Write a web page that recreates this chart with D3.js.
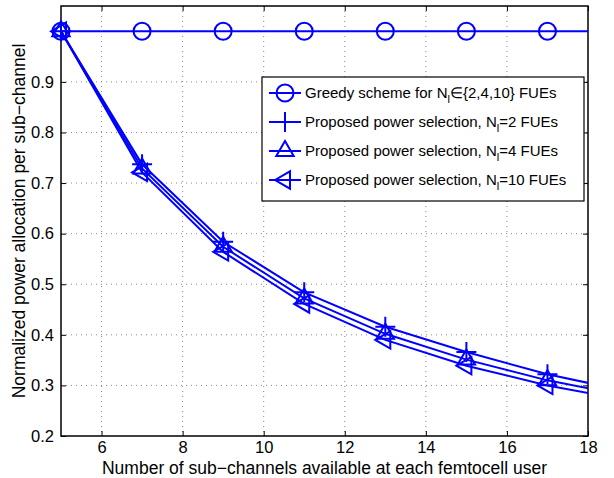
<!DOCTYPE html>
<html>
<head>
<meta charset="utf-8">
<script src="https://cdn.jsdelivr.net/npm/d3@7"></script>
<style>
body { margin: 0; background: #fff; }
text { font-family: "Liberation Sans", Arial, sans-serif; }
</style>
</head>
<body>
<div id="chart"></div>
<script>
// data
var xVals = [5, 7, 9, 11, 13, 15, 17, 19];
var greedy = [1, 1, 1, 1, 1, 1, 1, 1];
var prop2 = [1, 0.737, 0.584, 0.484, 0.416, 0.366, 0.322, 0.288];
var prop4 = [1, 0.729, 0.574, 0.472, 0.402, 0.351, 0.31, 0.279];
var prop10 = [1, 0.721, 0.564, 0.461, 0.39, 0.339, 0.30, 0.27];
var xTicks = [6, 8, 10, 12, 14, 16, 18];
var yTicks = [0.2, 0.3, 0.4, 0.5, 0.6, 0.7, 0.8, 0.9];

var W = 614, H = 478;
var margin = { top: 6, right: 26, bottom: 42, left: 61 };
var width = W - margin.left - margin.right,
	height = H - margin.top - margin.bottom;
var blue = "#0000ff";

var svg = d3.select("#chart").append("svg")
	.attr("width", W)
	.attr("height", H);

var g = svg.append("g")
	.attr("transform", "translate(" + margin.left + "," + margin.top + ")");

var x = d3.scaleLinear().domain([5, 18]).range([0, width]);
var y = d3.scaleLinear().domain([0.2, 1.05]).range([height, 0]);

// dotted grid
g.selectAll(".vgrid").data(xTicks.filter(function (d) { return d < 18; }))
	.enter().append("line")
	.attr("x1", function (d) { return x(d); })
	.attr("x2", function (d) { return x(d); })
	.attr("y1", 0).attr("y2", height)
	.attr("stroke", "#888").attr("stroke-width", 1)
	.attr("stroke-dasharray", "1,4");
g.selectAll(".hgrid").data(yTicks.filter(function (d) { return d > 0.2; }))
	.enter().append("line")
	.attr("y1", function (d) { return y(d); })
	.attr("y2", function (d) { return y(d); })
	.attr("x1", 0).attr("x2", width)
	.attr("stroke", "#888").attr("stroke-width", 1)
	.attr("stroke-dasharray", "1,4");

// axes (ticks inward, mirrored)
var xAxis = d3.axisBottom(x).tickValues(xTicks).tickSize(-5).tickPadding(5).tickFormat(d3.format("d"));
var yAxis = d3.axisLeft(y).tickValues(yTicks).tickSize(-5).tickPadding(7).tickFormat(d3.format(".1f"));

var gx = g.append("g").attr("transform", "translate(0," + height + ")").call(xAxis);
var gy = g.append("g").call(yAxis);
g.append("g").call(d3.axisTop(x).tickValues(xTicks).tickSize(-5).tickFormat(""));
g.append("g").attr("transform", "translate(" + width + ",0)")
	.call(d3.axisRight(y).tickValues(yTicks).tickSize(-5).tickFormat(""));

g.selectAll(".domain").remove();
g.selectAll(".tick line").attr("stroke", "#000");
g.selectAll(".tick text").attr("font-size", 16.5).attr("fill", "#000")
	.style("font-family", "'Liberation Sans', Arial, sans-serif");

g.append("rect")
	.attr("width", width).attr("height", height)
	.attr("fill", "none").attr("stroke", "#000").attr("stroke-width", 1.5);

// series
var series = [
	{ name: "greedy", vals: greedy, marker: "circle" },
	{ name: "p2", vals: prop2, marker: "plus" },
	{ name: "p4", vals: prop4, marker: "tri" },
	{ name: "p10", vals: prop10, marker: "ltri" }
];

function markerPath(type, s) {
	if (type == "circle") return null;
	if (type == "plus") return "M" + (-s) + ",0H" + s + "M0," + (-s) + "V" + s;
	if (type == "tri") return "M0," + (-s) + "L" + (s * 0.87) + "," + (s * 0.5) + "L" + (-s * 0.87) + "," + (s * 0.5) + "Z";
	if (type == "ltri") return "M" + (-s) + ",0L" + (s * 0.5) + "," + (-s * 0.87) + "L" + (s * 0.5) + "," + (s * 0.87) + "Z";
}

function drawMarker(sel, type) {
	if (type == "circle") {
		sel.append("circle").attr("r", 8.5)
			.attr("fill", "none").attr("stroke", blue).attr("stroke-width", 2);
	} else {
		sel.append("path").attr("d", markerPath(type, 10))
			.attr("fill", "none").attr("stroke", blue).attr("stroke-width", 2);
	}
}

var clip = g.append("clipPath").attr("id", "clip")
	.append("rect").attr("width", width).attr("height", height);

var line = d3.line()
	.x(function (d, i) { return x(xVals[i]); })
	.y(function (d) { return y(d); });

var plot = g.append("g").attr("clip-path", "url(#clip)");

series.forEach(function (s) {
	plot.append("path")
		.datum(s.vals)
		.attr("d", line)
		.attr("fill", "none")
		.attr("stroke", blue)
		.attr("stroke-width", 2);
	s.vals.forEach(function (v, i) {
		if (xVals[i] > 18) return;
		var m = g.append("g").attr("transform", "translate(" + x(xVals[i]) + "," + y(v) + ")");
		drawMarker(m, s.marker);
	});
});

// legend
var lg = svg.append("g").attr("transform", "translate(262,77)");
lg.append("rect").attr("width", 322).attr("height", 124)
	.attr("fill", "#fff").attr("stroke", "#000").attr("stroke-width", 1.2);

var legendItems = [
	{ marker: "circle", pre: "Greedy scheme for N", post: "\u2208{2,4,10} FUEs" },
	{ marker: "plus", pre: "Proposed power selection, N", post: "=2 FUEs" },
	{ marker: "tri", pre: "Proposed power selection, N", post: "=4 FUEs" },
	{ marker: "ltri", pre: "Proposed power selection, N", post: "=10 FUEs" }
];

legendItems.forEach(function (d, i) {
	var row = lg.append("g").attr("transform", "translate(0," + (16 + i * 29) + ")");
	row.append("line").attr("x1", 7).attr("x2", 39).attr("y1", 0).attr("y2", 0)
		.attr("stroke", blue).attr("stroke-width", 2);
	drawMarker(row.append("g").attr("transform", "translate(23,0)"), d.marker);
	var t = row.append("text").attr("x", 43).attr("y", 5).attr("font-size", 15).attr("fill", "#000");
	t.append("tspan").text(d.pre);
	t.append("tspan").attr("dy", 5).attr("font-size", 11).text("l");
	t.append("tspan").attr("dy", -5).text(d.post);
});

// axis titles
svg.append("text")
	.attr("x", margin.left + width / 2).attr("y", 474)
	.attr("text-anchor", "middle").attr("font-size", 17.5)
	.text("Number of sub\u2212channels available at each femtocell user");

svg.append("text")
	.attr("transform", "translate(25," + (margin.top + height / 2) + ") rotate(-90)")
	.attr("text-anchor", "middle").attr("font-size", 17.5)
	.text("Normalized power allocation per sub\u2212channel");
</script>
</body>
</html>
